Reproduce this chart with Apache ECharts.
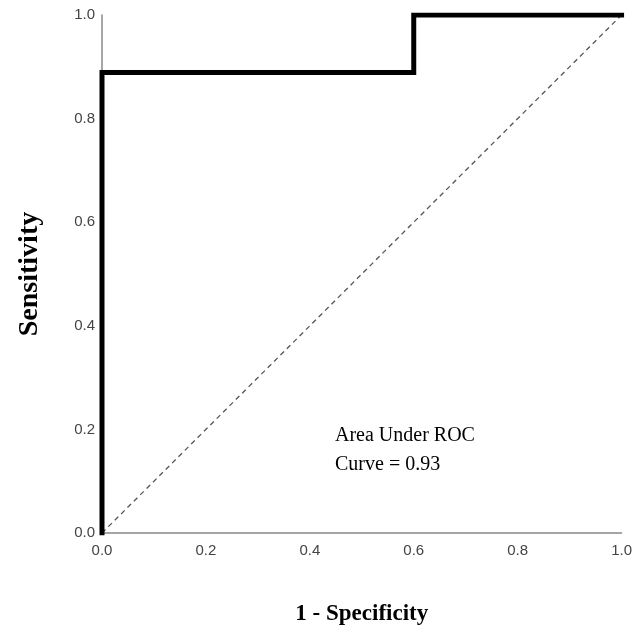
<!doctype html>
<html lang="en">
<head>
    <meta charset="UTF-8">
    <title>ROC Curve</title>
    <script src="https://cdn.jsdelivr.net/npm/echarts@6/dist/echarts.min.js"></script>
    <style>
        html, body { margin: 0; padding: 0; background: #fff; }
    </style>
</head>
<body>
<div id="main" style="width:635px; height:631px;"></div>

<script>
    // ROC curve points (1 - specificity, sensitivity)
    var rocX = [0.0, 0.0, 0.6, 0.6, 1.0];
    var rocY = [0.0, 0.889, 0.889, 1.0, 1.0];
    // reference diagonal
    var diagX = [0.0, 1.0];
    var diagY = [0.0, 1.0];
    var aucText = ['Area Under ROC', 'Curve = 0.93'];

    var rocData = rocX.map(function (x, i) { return [x, rocY[i]]; });
    var diagData = diagX.map(function (x, i) { return [x, diagY[i]]; });

    var myChart = echarts.init(document.getElementById('main'));
    myChart.setOption({
        animation: false,
        grid: {
            left: 102,
            right: 13,
            top: 15,
            bottom: 98
        },
        xAxis: {
            type: 'value',
            min: 0,
            max: 1,
            interval: 0.2,
            name: '1 - Specificity',
            nameLocation: 'middle',
            nameGap: 70,
            nameTextStyle: {
                fontFamily: 'Liberation Serif',
                fontWeight: 'bold',
                fontSize: 23,
                color: '#000'
            },
            axisLine: { lineStyle: { color: '#888', width: 1.5 } },
            axisTick: { show: false },
            splitLine: { show: false },
            axisLabel: {
                margin: 10,
                fontFamily: 'Liberation Sans',
                fontSize: 15,
                color: '#444',
                formatter: function (v) { return v.toFixed(1); }
            }
        },
        yAxis: {
            type: 'value',
            min: 0,
            max: 1,
            interval: 0.2,
            name: 'Sensitivity',
            nameLocation: 'middle',
            nameGap: 58,
            nameTextStyle: {
                fontFamily: 'Liberation Serif',
                fontWeight: 'bold',
                fontSize: 28,
                color: '#000'
            },
            axisLine: { lineStyle: { color: '#888', width: 1.5 } },
            axisTick: { show: false },
            splitLine: { show: false },
            axisLabel: {
                margin: 7,
                fontFamily: 'Liberation Sans',
                fontSize: 15,
                color: '#444',
                formatter: function (v) { return v.toFixed(1); }
            }
        },
        series: [
            {
                name: 'diagonal',
                type: 'line',
                data: diagData,
                symbol: 'none',
                lineStyle: { color: '#555', width: 1.3, type: [5, 4] },
                z: 1
            },
            {
                name: 'ROC',
                type: 'line',
                data: rocData,
                symbol: 'none',
                lineStyle: { color: '#000', width: 5, cap: 'square', join: 'miter' },
                z: 2
            }
        ],
        graphic: [
            {
                type: 'text',
                left: 335,
                top: 421,
                style: {
                    text: aucText.join('\n'),
                    font: '20px "Liberation Serif"',
                    lineHeight: 29,
                    fill: '#000'
                }
            }
        ]
    });
</script>
</body>
</html>
